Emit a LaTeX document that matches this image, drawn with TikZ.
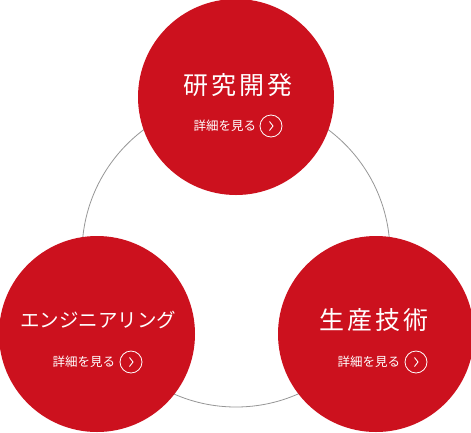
\documentclass[tikz,border=0pt]{standalone}
\usepackage{fontspec}
\usepackage{tikz}
\usetikzlibrary{calc}
\newfontfamily\jpfont{Noto Sans CJK JP}
\newfontfamily\jptitle[LetterSpace=12]{Noto Sans CJK JP}
\definecolor{brandred}{RGB}{204,17,30}
\definecolor{ringgray}{RGB}{150,150,150}

\begin{document}
\begin{tikzpicture}[
  x=1pt, y=-1pt,
  every node/.style={inner sep=0pt, outer sep=0pt},
  bigdot/.style={circle, fill=brandred, minimum size=196pt},
  title/.style={text=white, font=\jptitle\fontsize{25}{28}\selectfont},
  katatitle/.style={text=white, font=\jpfont\fontsize{19.5}{24}\selectfont},
  linktext/.style={text=white, anchor=east, font=\jpfont\fontsize{12.5}{14}\selectfont},
  arrowcirc/.style={circle, draw=white, line width=0.8pt, minimum size=22pt},
  chev/.style={draw=white, line width=0.9pt},
  ring/.style={draw=ringgray, line width=0.8pt},
]
\useasboundingbox (0,0) rectangle (471,432);

%% Background ring
\draw[ring] (236,253) circle[radius=154];

%% Circles
\node[bigdot] (rd)  at (236,97)  {};
\node[bigdot] (eng) at (97,334)  {};
\node[bigdot] (prd) at (376,334) {};

%% Titles
\node[title]     (rdtitle)  at (238,85)  {研究開発};
\node[katatitle] (engtitle) at (98,320)  {エンジニアリング};
\node[title]     (prdtitle) at (374,320) {生産技術};

%% Links
\node[linktext]  (rdlink)  at (256,126) {詳細を見る};
\node[arrowcirc] (rdarrow) at (271,126) {};
\draw[chev] ($(rdarrow)+(-1.5,-4.5)$) -- ++(3.5,4.5) -- ++(-3.5,4.5);

\node[linktext]  (englink)  at (115,362) {詳細を見る};
\node[arrowcirc] (engarrow) at (131,362) {};
\draw[chev] ($(engarrow)+(-1.5,-4.5)$) -- ++(3.5,4.5) -- ++(-3.5,4.5);

\node[linktext]  (prdlink)  at (400,362) {詳細を見る};
\node[arrowcirc] (prdarrow) at (416,362) {};
\draw[chev] ($(prdarrow)+(-1.5,-4.5)$) -- ++(3.5,4.5) -- ++(-3.5,4.5);

\end{tikzpicture}
\end{document}
